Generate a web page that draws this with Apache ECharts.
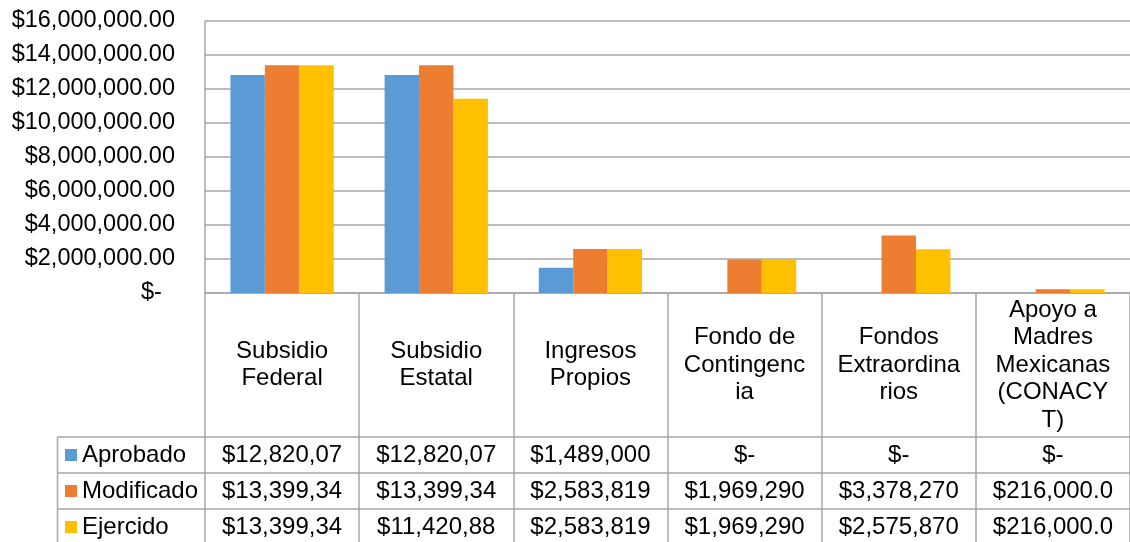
<!DOCTYPE html>
<html>
<head>
<meta charset="utf-8">
<script src="https://cdn.jsdelivr.net/npm/echarts@6/dist/echarts.min.js"></script>
<style>
    html, body { margin: 0; padding: 0; background: #fff; }
    #chart { width: 1130px; height: 542px; }
</style>
</head>
<body>
<div id="chart"></div>
<script>
// 数据
const categories = ['Subsidio\nFederal', 'Subsidio\nEstatal', 'Ingresos\nPropios',
    'Fondo de\nContingenc\nia', 'Fondos\nExtraordina\nrios', 'Apoyo a\nMadres\nMexicanas\n(CONACY\nT)'];
const seriesNames = ['Aprobado', 'Modificado', 'Ejercido'];
const aprobado = [12820070, 12820070, 1489000, 0, 0, 0];
const modificado = [13399340, 13399340, 2583819, 1969290, 3378270, 216000];
const ejercido = [13399340, 11420880, 2583819, 1969290, 2575870, 216000];
const yTicks = { min: 0, max: 16000000, interval: 2000000 };
const colors = ['#5B9BD5', '#ED7D31', '#FFC000'];

const FONT = "'Liberation Sans', Arial, sans-serif";
const FONT_SIZE = 24;
const GRID_COLOR = '#A6A6A6';
const LINE_W = 1.5;

/**
 * 会计格式: $12,820,070.00 / $-
 */
function money(v) {
    if (!v) return '$-';
    const parts = v.toFixed(2).split('.');
    parts[0] = parts[0].replace(/\B(?=(\d{3})+(?!\d))/g, ',');
    return '$' + parts.join('.');
}

// 数据表格单元格只显示10个字符（Excel截断）
function cell(v) {
    return money(v).slice(0, 10);
}

const rows = [aprobado, modificado, ejercido];

function rowAxis(values, offset) {
    return {
        type: 'category',
        position: 'bottom',
        offset: offset,
        data: values.map(cell),
        axisLine: { show: true, lineStyle: { color: GRID_COLOR, width: LINE_W } },
        axisTick: { show: false },
        splitLine: { show: false },
        axisLabel: {
            interval: 0,
            margin: 18,
            verticalAlign: 'middle',
            color: '#000',
            fontFamily: FONT,
            fontSize: FONT_SIZE
        }
    };
}

const chart = echarts.init(document.getElementById('chart'));

const border = { stroke: GRID_COLOR, lineWidth: LINE_W };

chart.setOption({
    animation: false,
    backgroundColor: '#fff',
    color: colors,
    textStyle: { fontFamily: FONT },
    grid: { left: 205, right: -6, top: 21, bottom: 249, containLabel: false },
    legend: {
        data: seriesNames,
        orient: 'vertical',
        left: 65,
        top: 437,
        height: 200,
        padding: 0,
        itemGap: 0,
        itemWidth: 12,
        itemHeight: 12,
        icon: 'rect',
        selectedMode: false,
        textStyle: { color: '#000', fontFamily: FONT, fontSize: FONT_SIZE, lineHeight: 36, height: 36 }
    },
    xAxis: [
        {
            type: 'category',
            position: 'bottom',
            data: categories,
            axisLine: { show: true, lineStyle: { color: GRID_COLOR, width: LINE_W } },
            axisTick: { show: true, length: 260, lineStyle: { color: GRID_COLOR, width: LINE_W } },
            splitLine: { show: false },
            axisLabel: {
                interval: 0,
                margin: 72,
                verticalAlign: 'middle',
                lineHeight: 27.5,
                color: '#000',
                fontFamily: FONT,
                fontSize: FONT_SIZE
            }
        },
        rowAxis(rows[0], 144),
        rowAxis(rows[1], 180),
        rowAxis(rows[2], 216)
    ],
    yAxis: {
        type: 'value',
        min: yTicks.min,
        max: yTicks.max,
        interval: yTicks.interval,
        axisLine: { show: true, lineStyle: { color: GRID_COLOR, width: LINE_W } },
        axisTick: { show: false },
        splitLine: { lineStyle: { color: GRID_COLOR, width: LINE_W } },
        axisLabel: {
            margin: 30,
            color: '#000',
            fontFamily: FONT,
            fontSize: 23.5,
            formatter: v => v === 0 ? '$-\u00a0\u00a0' : money(v)
        }
    },
    // 左侧图例列的边框
    graphic: [
        { type: 'line', shape: { x1: 57.5, y1: 437, x2: 205, y2: 437 }, style: border },
        { type: 'line', shape: { x1: 57.5, y1: 473, x2: 205, y2: 473 }, style: border },
        { type: 'line', shape: { x1: 57.5, y1: 509, x2: 205, y2: 509 }, style: border },
        { type: 'line', shape: { x1: 57.5, y1: 437, x2: 57.5, y2: 542 }, style: border }
    ],
    series: seriesNames.map((name, i) => ({
        name: name,
        type: 'bar',
        xAxisIndex: 0,
        data: rows[i],
        barGap: '0%',
        barCategoryGap: '33%',
        itemStyle: { color: colors[i] }
    }))
});
</script>
</body>
</html>
